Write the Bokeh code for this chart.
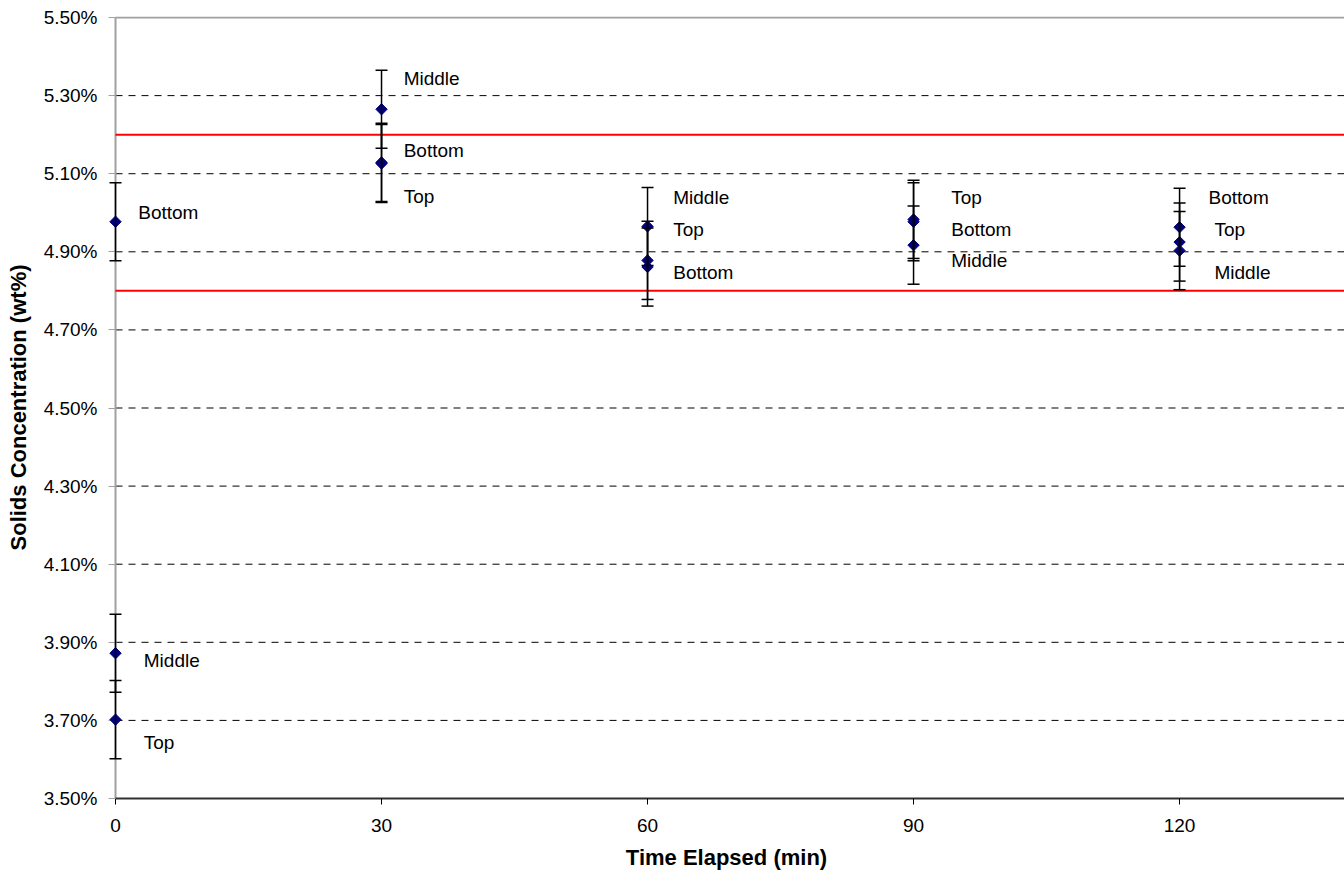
from bokeh.plotting import figure
from bokeh.models import (ColumnDataSource, Whisker, TeeHead, FixedTicker,
                          PrintfTickFormatter)
from bokeh.core.properties import value
from bokeh.embed import file_html
from bokeh.resources import INLINE
import math

FONT = "Liberation Sans"

# Sampling times (min) and measured solids concentration (wt%) per sample location
times = [0, 30, 60, 90, 120]
top = [3.702, 5.126, 4.878, 4.983, 4.925]
middle = [3.872, 5.265, 4.965, 4.917, 4.903]
bottom = [4.977, 5.129, 4.861, 4.977, 4.963]
uncertainty = 0.10  # +/- wt%

# Acceptance band (wt%)
limits = [4.80, 5.20]

# Axis ticks
x_ticks = [0, 30, 60, 90, 120]
y_ticks = [3.5, 3.7, 3.9, 4.1, 4.3, 4.5, 4.7, 4.9, 5.1, 5.3, 5.5]

# Sample-location labels placed beside each group of points
label_text = ["Bottom", "Middle", "Top",
              "Middle", "Bottom", "Top",
              "Middle", "Top", "Bottom",
              "Top", "Bottom", "Middle",
              "Bottom", "Top", "Middle"]
label_x = [2.56, 3.19, 3.19,
           32.5, 32.5, 32.5,
           62.9, 62.9, 62.9,
           94.25, 94.25, 94.25,
           123.27, 123.94, 123.94]
label_y = [5.001, 3.853, 3.644,
           5.343, 5.159, 5.042,
           5.040, 4.956, 4.848,
           5.040, 4.956, 4.878,
           5.040, 4.956, 4.848]

# visible extent of the time axis; a small margin left of 0 keeps the
# markers sitting on the value axis from being cut
X_END = 138.6
X_START = -0.79
Y_MIN, Y_MAX = 3.5, 5.5

xs, ys = [], []
for series in (top, middle, bottom):
    xs += times
    ys += series
pts = ColumnDataSource(dict(
    x=xs, y=ys,
    upper=[v + uncertainty for v in ys],
    lower=[v - uncertainty for v in ys],
))
labels = ColumnDataSource(dict(x=label_x, y=label_y, text=label_text))

p = figure(width=1344, height=876, x_range=(X_START, X_END),
           y_range=(Y_MIN, Y_MAX + 0.0026),
           output_backend="svg", toolbar_location=None,
           min_border_left=108, min_border_right=0,
           min_border_top=16, min_border_bottom=78)
p.outline_line_color = None
p.background_fill_color = "white"
p.border_fill_color = "white"
p.xgrid.grid_line_color = None
p.ygrid.grid_line_color = None

# dashed horizontal gridlines starting at the value axis
grid_y = y_ticks[1:-1]
p.segment(x0=[0] * len(grid_y), x1=[X_END] * len(grid_y), y0=grid_y, y1=grid_y,
          line_color="black", line_dash="7 6", line_width=1)

# plotting-area edges: top border and the value-axis line at t = 0
p.segment(x0=[0], x1=[X_END], y0=[Y_MAX], y1=[Y_MAX],
          line_color="#a0a0a0", line_width=2)
p.segment(x0=[0], x1=[0], y0=[Y_MIN], y1=[Y_MAX],
          line_color="#a0a0a0", line_width=2)

# acceptance band
p.segment(x0=[0] * len(limits), x1=[X_END] * len(limits), y0=limits, y1=limits,
          line_color="#ff0000", line_width=2)

# axes
p.xaxis.ticker = FixedTicker(ticks=x_ticks)
p.yaxis.ticker = FixedTicker(ticks=y_ticks)
p.yaxis.formatter = PrintfTickFormatter(format="%.2f%%")
p.xaxis.minor_tick_line_color = None
p.yaxis.minor_tick_line_color = None
p.xaxis.bounds = (0, X_END)

# value axis: its line is drawn above at t = 0; ticks reach from the
# frame edge to that line
p.yaxis.axis_line_color = None
p.yaxis.major_tick_line_color = "#a0a0a0"
p.yaxis.major_tick_line_width = 1
p.yaxis.major_tick_in = 7
p.yaxis.major_tick_out = 0

p.xaxis.axis_line_color = "#303030"
p.xaxis.axis_line_width = 2
p.xaxis.major_tick_line_color = "black"
p.xaxis.major_tick_in = 0
p.xaxis.major_tick_out = 6

for ax in (p.xaxis, p.yaxis):
    ax.major_label_text_font = FONT
    ax.major_label_text_font_size = "19px"
    ax.major_label_text_color = "black"
    ax.axis_label_text_font = FONT
    ax.axis_label_text_font_style = "bold"
    ax.axis_label_text_font_size = "22px"
    ax.axis_label_text_color = "black"

p.xaxis.axis_label = "Time Elapsed (min)"
p.yaxis.axis_label = "Solids Concentration (wt%)"
p.yaxis.major_label_standoff = 11
p.xaxis.major_label_standoff = 14
p.yaxis.axis_label_standoff = 10
p.xaxis.axis_label_standoff = 10

# error bars
whisk = Whisker(base="x", upper="upper", lower="lower", source=pts,
                dimension="height", line_color="black", line_width=1.5,
                level="overlay",
                upper_head=TeeHead(size=12, line_color="black", line_width=1.5),
                lower_head=TeeHead(size=12, line_color="black", line_width=1.5))
p.add_layout(whisk)

# data points
p.scatter("x", "y", source=pts, marker="square", angle=math.pi / 4, size=8,
          fill_color="#000080", line_color="#000080", level="overlay")

# location labels
p.text("x", "y", text="text", source=labels, text_font=value(FONT),
       text_font_size="19px", text_baseline="middle", text_align="left",
       text_color="black")

open("out.html", "w").write(file_html(p, INLINE))
